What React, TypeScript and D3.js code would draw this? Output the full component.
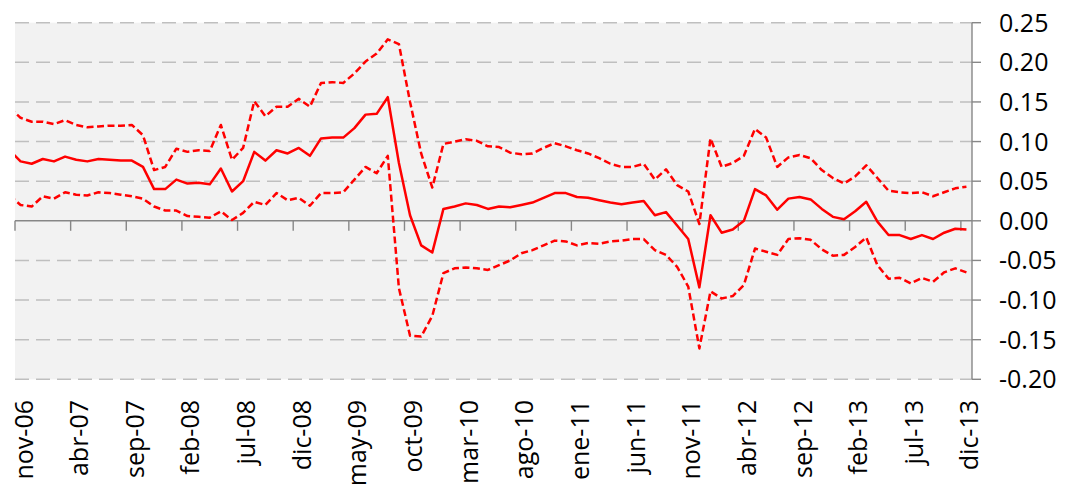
import * as d3 from "d3";

// categories run from oct-06 (index -1, clipped at the left edge) to dic-13 (index 85)
const firstIndex = -1;
const tickLabels = [
  "nov-06", "abr-07", "sep-07", "feb-08", "jul-08", "dic-08", "may-09", "oct-09", "mar-10",
  "ago-10", "ene-11", "jun-11", "nov-11", "abr-12", "sep-12", "feb-13", "jul-13", "dic-13",
];
const yTicks = [0.25, 0.2, 0.15, 0.1, 0.05, 0, -0.05, -0.1, -0.15, -0.2];

const estimate = [
  0.089, 0.075, 0.072, 0.078, 0.075, 0.081, 0.077, 0.075, 0.078, 0.077, 0.076, 0.076,
  0.068, 0.040, 0.040, 0.052, 0.047, 0.048, 0.046, 0.066, 0.037, 0.050, 0.087, 0.076,
  0.089, 0.085, 0.092, 0.082, 0.104, 0.105, 0.105, 0.117, 0.134, 0.135, 0.156, 0.073,
  0.007, -0.031, -0.040, 0.015, 0.018, 0.022, 0.020, 0.015, 0.018, 0.017, 0.020, 0.023,
  0.029, 0.035, 0.035, 0.030, 0.029, 0.026, 0.023, 0.021, 0.023, 0.025, 0.007, 0.011,
  -0.006, -0.023, -0.084, 0.007, -0.015, -0.011, 0.000, 0.040, 0.032, 0.014, 0.028, 0.030,
  0.027, 0.015, 0.005, 0.002, 0.012, 0.024, -0.001, -0.018, -0.018, -0.023, -0.018, -0.023,
  -0.015, -0.010, -0.011,
];

const upperBand = [
  0.143, 0.130, 0.125, 0.125, 0.122, 0.127, 0.121, 0.118, 0.119, 0.120, 0.120, 0.121,
  0.108, 0.064, 0.068, 0.091, 0.087, 0.089, 0.088, 0.121, 0.077, 0.092, 0.151, 0.132,
  0.144, 0.144, 0.154, 0.144, 0.174, 0.175, 0.174, 0.186, 0.201, 0.211, 0.229, 0.223,
  0.150, 0.085, 0.042, 0.097, 0.100, 0.103, 0.101, 0.094, 0.093, 0.086, 0.084, 0.085,
  0.092, 0.098, 0.094, 0.089, 0.085, 0.079, 0.072, 0.068, 0.068, 0.072, 0.052, 0.065,
  0.045, 0.037, -0.004, 0.104, 0.068, 0.073, 0.082, 0.116, 0.105, 0.068, 0.080, 0.083,
  0.079, 0.064, 0.054, 0.047, 0.056, 0.070, 0.054, 0.038, 0.036, 0.035, 0.036, 0.031,
  0.036, 0.041, 0.043,
];

const lowerBand = [
  0.032, 0.020, 0.018, 0.031, 0.028, 0.036, 0.033, 0.032, 0.036, 0.035, 0.033, 0.031,
  0.028, 0.018, 0.013, 0.013, 0.006, 0.005, 0.004, 0.012, 0.001, 0.010, 0.024, 0.020,
  0.035, 0.026, 0.029, 0.019, 0.035, 0.035, 0.036, 0.052, 0.068, 0.060, 0.082, -0.085,
  -0.145, -0.146, -0.120, -0.066, -0.060, -0.059, -0.060, -0.062, -0.056, -0.050, -0.041, -0.037,
  -0.031, -0.025, -0.026, -0.031, -0.028, -0.029, -0.026, -0.025, -0.023, -0.023, -0.037, -0.043,
  -0.058, -0.083, -0.161, -0.089, -0.098, -0.095, -0.081, -0.035, -0.039, -0.043, -0.023, -0.022,
  -0.024, -0.036, -0.044, -0.043, -0.033, -0.021, -0.056, -0.073, -0.072, -0.079, -0.072, -0.077,
  -0.065, -0.060, -0.065,
];

const width = 1065;
const height = 486;
const plot = { left: 15, right: 972, top: 22.7, bottom: 379.3 };
const font = "'Open Sans', 'Liberation Sans', sans-serif";

export default function App() {
  const x = d3.scaleLinear().domain([-0.5, 85.5]).range([plot.left, plot.right]);
  const y = d3.scaleLinear().domain([-0.2, 0.25]).range([plot.bottom, plot.top]);

  const line = d3
    .line<number>()
    .x((_, i) => x(i + firstIndex))
    .y((v) => y(v));

  const tickIdx = tickLabels.map((_, k) => k * 5);

  return (
    <svg
      width={width}
      height={height}
      style={{ position: "absolute", left: 0, top: 0, background: "#ffffff" }}
    >
      <defs>
        <clipPath id="plot-clip">
          <rect
            x={plot.left}
            y={plot.top - 2}
            width={plot.right - plot.left}
            height={plot.bottom - plot.top + 4}
          />
        </clipPath>
      </defs>

      <rect
        x={plot.left}
        y={plot.top}
        width={plot.right - plot.left}
        height={plot.bottom - plot.top}
        fill="#f2f2f2"
      />

      {yTicks
        .filter((t) => t !== 0)
        .map((t) => (
          <line
            key={`g${t}`}
            x1={plot.left}
            x2={plot.right}
            y1={y(t)}
            y2={y(t)}
            stroke="#bfbfbf"
            strokeWidth={1.4}
            strokeDasharray="14 7"
          />
        ))}

      {/* category axis at zero */}
      <line x1={plot.left} x2={plot.right} y1={y(0)} y2={y(0)} stroke="#878787" strokeWidth={1.4} />
      {tickIdx.map((i) => (
        <line
          key={`xt${i}`}
          x1={x(i - 0.5)}
          x2={x(i - 0.5)}
          y1={y(0)}
          y2={y(0) + 10}
          stroke="#878787"
          strokeWidth={1.4}
        />
      ))}

      {/* value axis on the right */}
      <line x1={plot.right} x2={plot.right} y1={plot.top} y2={plot.bottom} stroke="#878787" strokeWidth={1.4} />
      {yTicks.map((t) => (
        <g key={`yt${t}`}>
          <line x1={plot.right} x2={plot.right + 9} y1={y(t)} y2={y(t)} stroke="#878787" strokeWidth={1.4} />
          <text x={999} y={y(t) + 9} fontFamily={font} fontSize={25} fill="#000000">
            {t.toFixed(2)}
          </text>
        </g>
      ))}

      {tickLabels.map((label, k) => (
        <text
          key={label}
          transform={`translate(${x(k * 5) + 12}, 400) rotate(-90)`}
          textAnchor="end"
          fontFamily={font}
          fontSize={25}
          fill="#000000"
        >
          {label}
        </text>
      ))}

      <g clipPath="url(#plot-clip)" fill="none" stroke="#ff0000" strokeWidth={2.5} strokeLinejoin="round">
        <path d={line(upperBand) ?? ""} strokeDasharray="7 3.5" />
        <path d={line(lowerBand) ?? ""} strokeDasharray="7 3.5" />
        <path d={line(estimate) ?? ""} />
      </g>
    </svg>
  );
}
